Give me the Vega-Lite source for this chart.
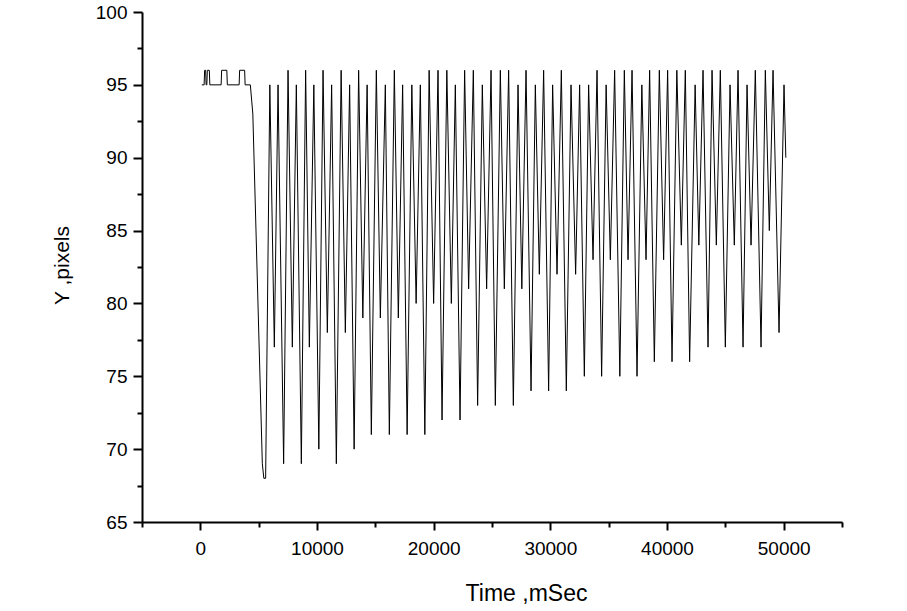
{
  "$schema": "https://vega.github.io/schema/vega-lite/v6.json",
  "width": 700,
  "height": 510,
  "autosize": {"type": "none"},
  "padding": {"left": 142, "top": 12, "right": 65, "bottom": 89},
  "background": "white",
  "config": {
    "view": {"stroke": null},
    "font": "Liberation Sans",
    "axis": {
      "domainColor": "black",
      "domainWidth": 2,
      "tickColor": "black",
      "tickWidth": 2,
      "labelColor": "black",
      "titleColor": "black",
      "labelFont": "Liberation Sans",
      "titleFont": "Liberation Sans",
      "labelFontSize": 19,
      "titleFontWeight": "normal",
      "grid": false
    }
  },
  "data": {
    "values": [
      {"t": 130, "y": 95}, {"t": 326, "y": 95}, {"t": 369, "y": 96}, {"t": 454, "y": 96}, {"t": 497, "y": 95},
      {"t": 557, "y": 95}, {"t": 600, "y": 96}, {"t": 771, "y": 96}, {"t": 814, "y": 95},
      {"t": 1783, "y": 95}, {"t": 1826, "y": 96}, {"t": 2271, "y": 96}, {"t": 2314, "y": 95},
      {"t": 3326, "y": 95}, {"t": 3369, "y": 96}, {"t": 3797, "y": 96}, {"t": 3840, "y": 95},
      {"t": 4286, "y": 95}, {"t": 4500, "y": 93}, {"t": 5314, "y": 69}, {"t": 5443, "y": 68}, {"t": 5597, "y": 68},
      {"t": 5957, "y": 95}, {"t": 6343, "y": 77}, {"t": 6660, "y": 95}, {"t": 7140, "y": 69},
      {"t": 7517, "y": 96}, {"t": 7886, "y": 77}, {"t": 8229, "y": 95}, {"t": 8657, "y": 69},
      {"t": 9026, "y": 96}, {"t": 9343, "y": 77}, {"t": 9729, "y": 95}, {"t": 10157, "y": 70},
      {"t": 10517, "y": 96}, {"t": 10886, "y": 78}, {"t": 11254, "y": 95}, {"t": 11657, "y": 69},
      {"t": 12069, "y": 96}, {"t": 12429, "y": 78}, {"t": 12797, "y": 95}, {"t": 13183, "y": 70},
      {"t": 13569, "y": 96}, {"t": 13929, "y": 79}, {"t": 14297, "y": 95}, {"t": 14657, "y": 71},
      {"t": 15086, "y": 96}, {"t": 15429, "y": 79}, {"t": 15857, "y": 95}, {"t": 16200, "y": 71},
      {"t": 16629, "y": 96}, {"t": 16971, "y": 79}, {"t": 17340, "y": 95}, {"t": 17726, "y": 71},
      {"t": 18129, "y": 95}, {"t": 18497, "y": 80}, {"t": 18857, "y": 95}, {"t": 19243, "y": 71},
      {"t": 19611, "y": 96}, {"t": 19997, "y": 80}, {"t": 20374, "y": 96}, {"t": 20717, "y": 72},
      {"t": 21129, "y": 96}, {"t": 21514, "y": 80}, {"t": 21857, "y": 95}, {"t": 22260, "y": 72},
      {"t": 22654, "y": 96}, {"t": 22997, "y": 81}, {"t": 23400, "y": 96}, {"t": 23769, "y": 73},
      {"t": 24171, "y": 95}, {"t": 24540, "y": 81}, {"t": 24917, "y": 96}, {"t": 25286, "y": 73},
      {"t": 25714, "y": 96}, {"t": 26057, "y": 81}, {"t": 26426, "y": 96}, {"t": 26829, "y": 73},
      {"t": 27231, "y": 95}, {"t": 27557, "y": 81}, {"t": 27917, "y": 96}, {"t": 28346, "y": 74},
      {"t": 28714, "y": 95}, {"t": 29057, "y": 82}, {"t": 29426, "y": 96}, {"t": 29854, "y": 74},
      {"t": 30197, "y": 95}, {"t": 30574, "y": 82}, {"t": 30943, "y": 96}, {"t": 31371, "y": 74},
      {"t": 31774, "y": 95}, {"t": 32169, "y": 82}, {"t": 32511, "y": 95}, {"t": 32914, "y": 75},
      {"t": 33283, "y": 95}, {"t": 33660, "y": 83}, {"t": 34003, "y": 96}, {"t": 34397, "y": 75},
      {"t": 34783, "y": 95}, {"t": 35143, "y": 83}, {"t": 35511, "y": 96}, {"t": 35957, "y": 75},
      {"t": 36343, "y": 96}, {"t": 36660, "y": 83}, {"t": 37003, "y": 96}, {"t": 37431, "y": 75},
      {"t": 37843, "y": 95}, {"t": 38203, "y": 83}, {"t": 38511, "y": 96}, {"t": 38914, "y": 76},
      {"t": 39343, "y": 96}, {"t": 39711, "y": 83}, {"t": 40054, "y": 96}, {"t": 40431, "y": 76},
      {"t": 40843, "y": 96}, {"t": 41229, "y": 84}, {"t": 41571, "y": 96}, {"t": 41940, "y": 76},
      {"t": 42411, "y": 95}, {"t": 42729, "y": 84}, {"t": 43089, "y": 96}, {"t": 43517, "y": 77},
      {"t": 43860, "y": 96}, {"t": 44229, "y": 84}, {"t": 44571, "y": 96}, {"t": 45000, "y": 77},
      {"t": 45403, "y": 95}, {"t": 45771, "y": 84}, {"t": 46089, "y": 96}, {"t": 46517, "y": 77},
      {"t": 46860, "y": 95}, {"t": 47203, "y": 84}, {"t": 47571, "y": 96}, {"t": 48060, "y": 77},
      {"t": 48429, "y": 96}, {"t": 48771, "y": 85}, {"t": 49089, "y": 96}, {"t": 49603, "y": 78},
      {"t": 50031, "y": 95}, {"t": 50186, "y": 90}
    ]
  },
  "mark": {"type": "line", "color": "black", "strokeWidth": 1, "interpolate": "linear"},
  "encoding": {
    "x": {
      "field": "t",
      "type": "quantitative",
      "scale": {"domain": [-5000, 55000], "nice": false, "zero": false},
      "axis": {
        "title": "Time ,mSec",
        "titleFontSize": 23,
        "titleX": 384,
        "titleY": 78,
        "titleAlign": "center",
        "titleBaseline": "alphabetic",
        "values": [-5000, 0, 5000, 10000, 15000, 20000, 25000, 30000, 35000, 40000, 45000, 50000, 55000],
        "labelExpr": "datum.value % 10000 === 0 && datum.value >= 0 && datum.value <= 50000 ? format(datum.value, 'd') : ''",
        "tickSize": {"condition": {"test": "datum.value % 10000 === 0", "value": 8}, "value": 5},
        "labelPadding": 9,
        "labelFlush": false,
        "labelOverlap": false
      }
    },
    "y": {
      "field": "y",
      "type": "quantitative",
      "scale": {"domain": [65, 100], "nice": false, "zero": false},
      "axis": {
        "title": "Y ,pixels",
        "titleFontSize": 21,
        "titleAngle": -90,
        "titleX": -80,
        "titleY": 253,
        "titleAlign": "center",
        "titleBaseline": "middle",
        "values": [65, 67.5, 70, 72.5, 75, 77.5, 80, 82.5, 85, 87.5, 90, 92.5, 95, 97.5, 100],
        "labelExpr": "datum.value % 5 === 0 ? format(datum.value, 'd') : ''",
        "tickSize": {"condition": {"test": "datum.value % 5 === 0", "value": 9}, "value": 5},
        "labelPadding": 6,
        "labelFlush": false,
        "labelOverlap": false
      }
    }
  }
}
